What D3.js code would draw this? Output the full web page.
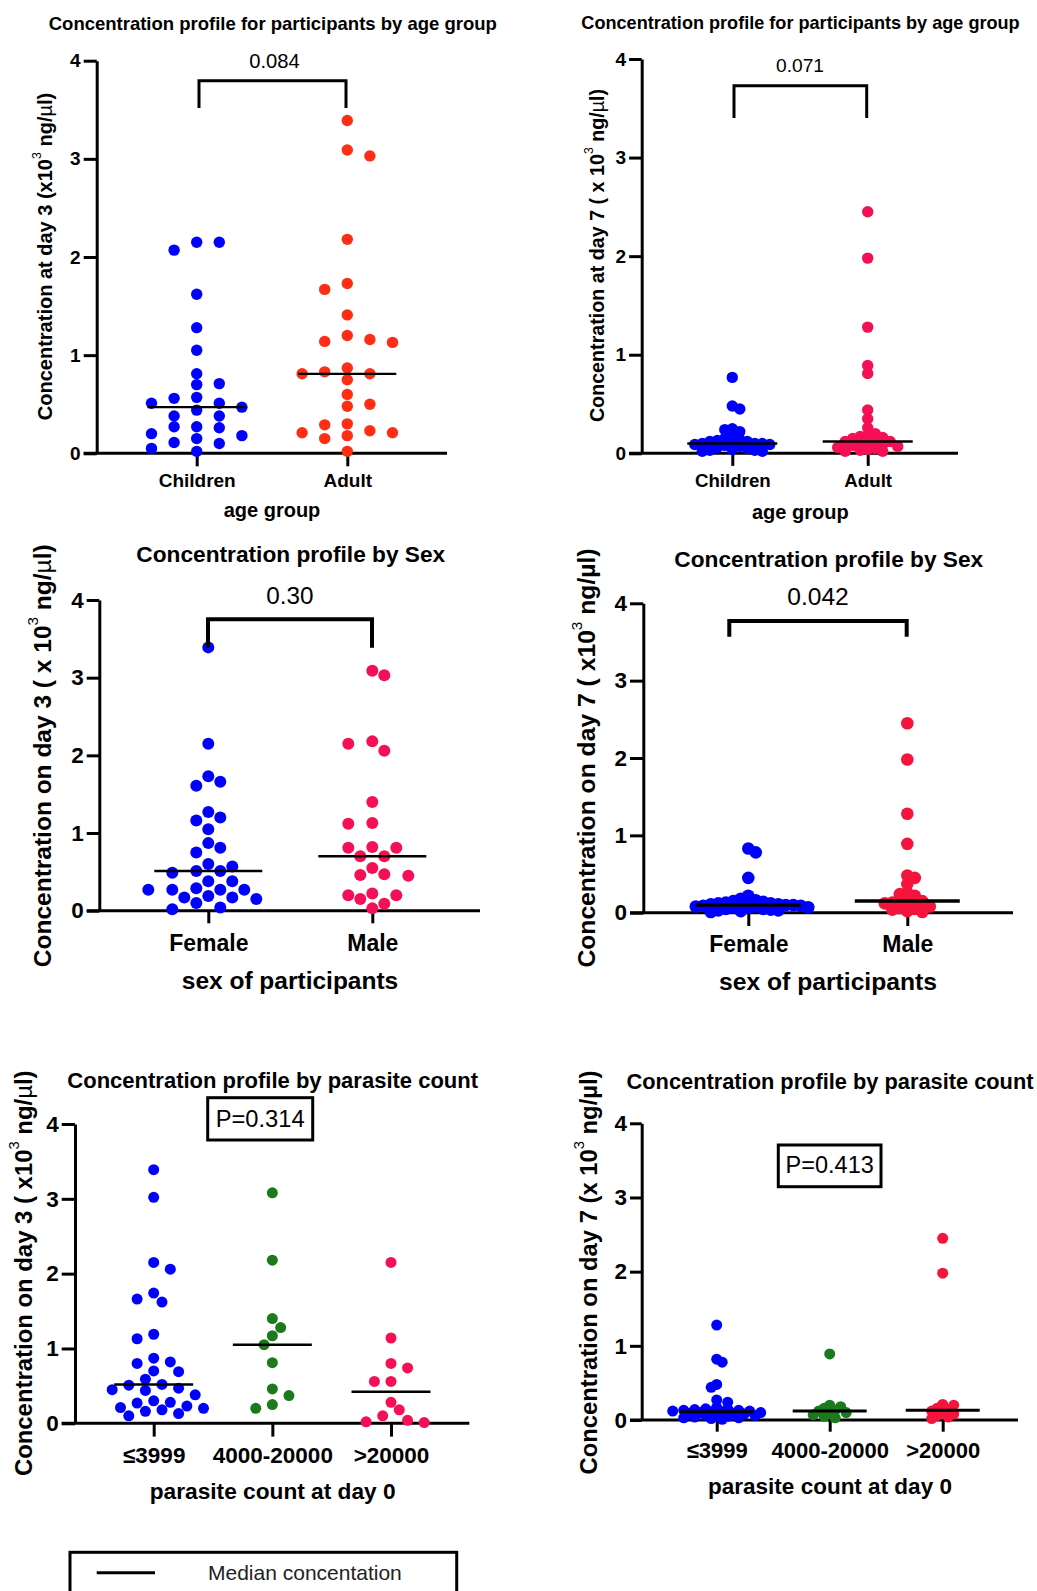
<!DOCTYPE html>
<html>
<head>
<meta charset="utf-8">
<script src="https://cdn.jsdelivr.net/npm/d3@7"></script>
<style>
  body { margin: 0; background: #fff; }
  svg { display: block; font-family: 'Liberation Sans', Arial, sans-serif; }
</style>
</head>
<body>
<div class="canvas"></div>
<script>
// categories
const ageGroups = ['Children', 'Adult']
const sexGroups = ['Female', 'Male']
const parasiteGroups = ['≤3999', '4000-20000', '>20000']
const yTicks = [0, 1, 2, 3, 4]

// concentration (x10^3 ng/ul)
const day3Children = [2.15, 2.07, 2.15, 1.62, 1.28, 1.05, 0.81, 0.71, 0.70, 0.56, 0.57, 0.51, 0.51, 0.47, 0.44, 0.38, 0.38, 0.26, 0.27, 0.27, 0.20, 0.18, 0.15, 0.10, 0.11, 0.05, 0.02]
const day3Adult = [3.39, 3.09, 3.03, 2.18, 1.73, 1.67, 1.41, 1.20, 1.16, 1.14, 1.13, 0.87, 0.81, 0.81, 0.83, 0.75, 0.60, 0.50, 0.48, 0.30, 0.29, 0.23, 0.21, 0.21, 0.18, 0.15, 0.02]
const day7Children = [0.77, 0.48, 0.45, 0.25, 0.24, 0.22, 0.18, 0.15, 0.14, 0.13, 0.12, 0.12, 0.11, 0.10, 0.10, 0.10, 0.09, 0.09, 0.08, 0.07, 0.06, 0.05, 0.04, 0.03, 0.03, 0.02, 0.02]
const day7Adult = [2.45, 1.98, 1.28, 0.89, 0.81, 0.44, 0.35, 0.26, 0.20, 0.18, 0.17, 0.16, 0.15, 0.12, 0.12, 0.12, 0.11, 0.10, 0.09, 0.08, 0.07, 0.06, 0.05, 0.04, 0.03, 0.02, 0.02]

const day3Female = [3.39, 2.15, 1.73, 1.66, 1.61, 1.27, 1.20, 1.16, 1.05, 0.87, 0.81, 0.75, 0.60, 0.57, 0.51, 0.51, 0.49, 0.38, 0.38, 0.29, 0.27, 0.27, 0.27, 0.27, 0.19, 0.17, 0.17, 0.15, 0.10, 0.04, 0.02]
const day3Male = [3.09, 3.03, 2.18, 2.15, 2.06, 1.40, 1.13, 1.12, 0.82, 0.81, 0.81, 0.70, 0.70, 0.55, 0.47, 0.46, 0.45, 0.22, 0.20, 0.20, 0.15, 0.09, 0.03]
const day7Female = [0.83, 0.78, 0.45, 0.22, 0.18, 0.16, 0.15, 0.14, 0.14, 0.13, 0.12, 0.12, 0.11, 0.11, 0.10, 0.10, 0.10, 0.09, 0.09, 0.08, 0.08, 0.07, 0.07, 0.06, 0.05, 0.05, 0.04, 0.03, 0.03, 0.02, 0.01]
const day7Male = [2.45, 1.98, 1.28, 0.89, 0.48, 0.45, 0.37, 0.26, 0.24, 0.22, 0.18, 0.15, 0.15, 0.14, 0.13, 0.12, 0.10, 0.08, 0.06, 0.05, 0.04, 0.02, 0.01]

const day3Low = [3.39, 3.02, 2.15, 2.06, 1.74, 1.66, 1.62, 1.19, 1.13, 0.87, 0.82, 0.80, 0.70, 0.69, 0.59, 0.52, 0.51, 0.47, 0.45, 0.44, 0.38, 0.30, 0.28, 0.27, 0.23, 0.21, 0.20, 0.18, 0.16, 0.13, 0.10]
const day3Mid = [3.08, 2.18, 1.40, 1.28, 1.17, 1.05, 0.81, 0.46, 0.37, 0.25, 0.20]
const day3High = [2.15, 1.14, 0.80, 0.74, 0.56, 0.56, 0.28, 0.18, 0.10, 0.04, 0.02, 0.01]
const day7Low = [1.28, 0.82, 0.78, 0.48, 0.44, 0.27, 0.24, 0.17, 0.15, 0.15, 0.14, 0.13, 0.13, 0.12, 0.12, 0.11, 0.11, 0.10, 0.10, 0.09, 0.09, 0.08, 0.07, 0.06, 0.06, 0.05, 0.04, 0.03, 0.03, 0.02, 0.01]
const day7Mid = [0.89, 0.20, 0.18, 0.16, 0.13, 0.12, 0.10, 0.09, 0.07, 0.05, 0.03]
const day7High = [2.45, 1.98, 0.21, 0.20, 0.16, 0.14, 0.12, 0.10, 0.08, 0.06, 0.04, 0.02]

const blue = '#0000ff'
const orangeRed = '#ff2d14'
const pink = '#f50f55'
const red = '#f5143c'
const green = '#1c7a1c'
const font = "'Liberation Sans', Arial, sans-serif"

const svg = d3.select('.canvas')
  .append('svg')
  .attr('width', 1037)
  .attr('height', 1591)

// greedy beeswarm on a column grid, top dots first
const swarm = (vals, y, step, dmin) => {
  const pts = vals.map(v => ({ v, py: y(v) })).sort((a, b) => a.py - b.py)
  const placed = []
  pts.forEach(p => {
    const free = c => placed.every(q => Math.hypot((q.c - c) * step, q.py - p.py) >= dmin)
    for (let m = 0; m < 100; m++) {
      let cands = [m]
      if (m > 0) {
        const right = placed.filter(q => q.c > 0).length
        const left = placed.filter(q => q.c < 0).length
        cands = right > left ? [-m, m] : [m, -m]
      }
      const c = cands.find(free)
      if (c !== undefined) { p.c = c; placed.push(p); break }
    }
  })
  return pts
}

const panel = cfg => {
  const g = svg.append('g')
  const y = d3.scaleLinear().domain([0, 4]).range([cfg.yBot, cfg.yTop])
  const x = d3.scalePoint().domain(cfg.groups).range(cfg.cats)

  // axes
  const yAxis = g.append('g')
    .attr('transform', `translate(${cfg.x0}, 0)`)
    .call(d3.axisLeft(y).tickValues(yTicks).tickFormat(d3.format('d')).tickSize(cfg.tickLen).tickSizeOuter(0).tickPadding(3))
  yAxis.selectAll('line, path').attr('stroke', '#000').attr('stroke-width', 3)
  yAxis.selectAll('text')
    .style('font-family', font)
    .style('font-size', `${cfg.tickFont}px`)
    .style('font-weight', 'bold')
    .attr('fill', '#000')

  g.append('line')
    .attr('x1', cfg.x0 - cfg.tickLen).attr('x2', cfg.xEnd)
    .attr('y1', cfg.yBot).attr('y2', cfg.yBot)
    .attr('stroke', '#000').attr('stroke-width', 3)

  const xAxis = g.append('g')
    .attr('transform', `translate(0, ${cfg.yBot})`)
    .call(d3.axisBottom(x).tickSize(cfg.tickLen).tickSizeOuter(0))
  xAxis.select('.domain').remove()
  xAxis.selectAll('line').attr('stroke', '#000').attr('stroke-width', 3)
  xAxis.selectAll('text')
    .attr('y', cfg.catY - cfg.yBot)
    .attr('dy', '0.35em')
    .style('font-family', font)
    .style('font-size', `${cfg.catFont}px`)
    .style('font-weight', 'bold')
    .attr('fill', '#000')

  // dots
  cfg.series.forEach((vals, i) => {
    const cx = x(cfg.groups[i])
    g.append('g').selectAll('circle')
      .data(swarm(vals, y, cfg.step, cfg.dmin))
      .enter().append('circle')
        .attr('cx', d => cx + d.c * cfg.step)
        .attr('cy', d => d.py)
        .attr('r', cfg.r)
        .attr('fill', cfg.colors[i])

    const med = d3.median(vals)
    g.append('line')
      .attr('x1', cx - cfg.medHalf).attr('x2', cx + cfg.medHalf)
      .attr('y1', y(med)).attr('y2', y(med))
      .attr('stroke', '#000').attr('stroke-width', cfg.medW)
  })

  // titles
  g.append('text')
    .attr('x', cfg.title.x).attr('y', cfg.title.y)
    .attr('text-anchor', 'middle').attr('dominant-baseline', 'central')
    .attr('font-size', cfg.title.size).attr('font-weight', 'bold')
    .text(cfg.title.text)

  g.append('text')
    .attr('x', cfg.xTitle.x).attr('y', cfg.xTitle.y)
    .attr('text-anchor', 'middle').attr('dominant-baseline', 'central')
    .attr('font-size', cfg.xTitle.size).attr('font-weight', 'bold')
    .text(cfg.xTitle.text)

  const yl = cfg.yLabel
  const lab = g.append('text')
    .attr('transform', `translate(${yl.x}, ${yl.y}) rotate(-90)`)
    .attr('text-anchor', 'middle').attr('dominant-baseline', 'central')
    .attr('font-size', yl.size).attr('font-weight', 'bold')
  lab.append('tspan').text(yl.pre)
  lab.append('tspan').attr('dy', -yl.size * 0.4).attr('font-size', yl.size * 0.62).attr('font-weight', 'normal').text('3')
  lab.append('tspan').attr('dy', yl.size * 0.4).text(' ng/')
  lab.append('tspan').attr('font-weight', yl.thinMu ? 'normal' : 'bold').text('µ')
  lab.append('tspan').text('l)')

  // significance
  if (cfg.bracket) {
    const b = cfg.bracket
    g.append('path')
      .attr('d', d3.line()([[b.x1, b.yBot], [b.x1, b.yTop], [b.x2, b.yTop], [b.x2, b.yBot]]))
      .attr('fill', 'none').attr('stroke', '#000').attr('stroke-width', b.w)
  }
  if (cfg.pBox) {
    const p = cfg.pBox
    g.append('rect')
      .attr('x', p.x1).attr('y', p.y1)
      .attr('width', p.x2 - p.x1).attr('height', p.y2 - p.y1)
      .attr('fill', 'none').attr('stroke', '#000').attr('stroke-width', 3)
  }
  g.append('text')
    .attr('x', cfg.pText.x).attr('y', cfg.pText.y)
    .attr('text-anchor', 'middle').attr('dominant-baseline', 'central')
    .attr('font-size', cfg.pText.size)
    .text(cfg.pText.text)
}

panel({
  groups: ageGroups, series: [day3Children, day3Adult], colors: [blue, orangeRed],
  x0: 96.7, xEnd: 447, yTop: 60.7, yBot: 453.3, cats: [196.7, 347.3],
  r: 5.7, step: 22.6, dmin: 10.5, medHalf: 49, medW: 2.2,
  tickFont: 19, tickLen: 13, catFont: 19, catY: 480,
  title: { text: 'Concentration profile for participants by age group', x: 272.8, y: 23, size: 18.5 },
  xTitle: { text: 'age group', x: 272, y: 510, size: 20 },
  yLabel: { pre: 'Concentration at day 3 (x10', x: 45, y: 256.5, size: 20, thinMu: true },
  bracket: { x1: 199, x2: 346, yTop: 80.7, yBot: 108, w: 3 },
  pText: { text: '0.084', x: 274.5, y: 61, size: 20.2 }
})

panel({
  groups: ageGroups, series: [day7Children, day7Adult], colors: [blue, pink],
  x0: 641.7, xEnd: 958, yTop: 59, yBot: 453.3, cats: [732.3, 867.7],
  r: 5.7, step: 7.5, dmin: 6.5, medHalf: 45, medW: 2.5,
  tickFont: 19, tickLen: 12.6, catFont: 18.7, catY: 480,
  title: { text: 'Concentration profile for participants by age group', x: 800.5, y: 23, size: 18.1 },
  xTitle: { text: 'age group', x: 800.3, y: 512, size: 20 },
  yLabel: { pre: 'Concentration at day 7 ( x 10', x: 597, y: 255.5, size: 19.7, thinMu: true },
  bracket: { x1: 734, x2: 866.7, yTop: 85.7, yBot: 118, w: 3 },
  pText: { text: '0.071', x: 800, y: 65, size: 19.2 }
})

panel({
  groups: sexGroups, series: [day3Female, day3Male], colors: [blue, pink],
  x0: 99.3, xEnd: 480, yTop: 600, yBot: 910.7, cats: [208.3, 372.3],
  r: 6, step: 12, dmin: 12.5, medHalf: 54, medW: 2.5,
  tickFont: 22.5, tickLen: 12.6, catFont: 23, catY: 943,
  title: { text: 'Concentration profile by Sex', x: 290.8, y: 554.3, size: 22.7 },
  xTitle: { text: 'sex of participants', x: 290, y: 980, size: 24.5 },
  yLabel: { pre: 'Concentration on day 3 ( x 10', x: 41.7, y: 755.8, size: 24.5, thinMu: true },
  bracket: { x1: 208, x2: 372, yTop: 619.3, yBot: 647.7, w: 4 },
  pText: { text: '0.30', x: 290, y: 595, size: 24.3 }
})

panel({
  groups: sexGroups, series: [day7Female, day7Male], colors: [blue, red],
  x0: 643.3, xEnd: 1013, yTop: 603.3, yBot: 912.7, cats: [748.3, 907.3],
  r: 6.3, step: 7.5, dmin: 6, medHalf: 52.5, medW: 3.5,
  tickFont: 22.5, tickLen: 13.3, catFont: 23, catY: 944,
  title: { text: 'Concentration profile by Sex', x: 828.8, y: 559, size: 22.7 },
  xTitle: { text: 'sex of participants', x: 828, y: 981.7, size: 24.7 },
  yLabel: { pre: 'Concentration on day 7 ( x10', x: 585.7, y: 758, size: 24.7, thinMu: false },
  bracket: { x1: 729.3, x2: 906.7, yTop: 621, yBot: 636.7, w: 4 },
  pText: { text: '0.042', x: 818, y: 596.7, size: 24.6 }
})

panel({
  groups: parasiteGroups, series: [day3Low, day3Mid, day3High], colors: [blue, green, pink],
  x0: 75, xEnd: 469.3, yTop: 1124, yBot: 1423.3, cats: [153.7, 391],
  r: 5.5, step: 8.3, dmin: 11, medHalf: 39.5, medW: 2.5,
  tickFont: 22.5, tickLen: 13.3, catFont: 22.5, catY: 1455,
  title: { text: 'Concentration profile by parasite count', x: 272.7, y: 1080, size: 22 },
  xTitle: { text: 'parasite count at day 0', x: 272.7, y: 1491, size: 22.7 },
  yLabel: { pre: 'Concentration on day 3 ( x10', x: 23.3, y: 1273.3, size: 23.9, thinMu: true },
  pBox: { x1: 207.7, x2: 312.7, y1: 1097.7, y2: 1140 },
  pText: { text: 'P=0.314', x: 260.2, y: 1119, size: 23.7 }
})

panel({
  groups: parasiteGroups, series: [day7Low, day7Mid, day7High], colors: [blue, green, red],
  x0: 641.7, xEnd: 1018, yTop: 1123.3, yBot: 1420, cats: [716.7, 942.7],
  r: 5.5, step: 5.5, dmin: 6, medHalf: 37, medW: 3,
  tickFont: 22.5, tickLen: 11.7, catFont: 22, catY: 1450.7,
  title: { text: 'Concentration profile by parasite count', x: 830, y: 1081.7, size: 21.8 },
  xTitle: { text: 'parasite count at day 0', x: 830, y: 1486.7, size: 22.5 },
  yLabel: { pre: 'Concentration on day 7 (x 10', x: 588.3, y: 1272.5, size: 23.8, thinMu: false },
  pBox: { x1: 778.3, x2: 881, y1: 1145, y2: 1186.7 },
  pText: { text: 'P=0.413', x: 829.7, y: 1165, size: 23.5 }
})

// legend
const legend = svg.append('g')
legend.append('rect')
  .attr('x', 70).attr('y', 1552.3)
  .attr('width', 386.7).attr('height', 60)
  .attr('fill', 'none').attr('stroke', '#000').attr('stroke-width', 3)
legend.append('line')
  .attr('x1', 96.7).attr('x2', 155)
  .attr('y1', 1572.7).attr('y2', 1572.7)
  .attr('stroke', '#000').attr('stroke-width', 3)
legend.append('text')
  .attr('x', 208).attr('y', 1572)
  .attr('dominant-baseline', 'central')
  .attr('font-size', 21).attr('fill', '#222')
  .text('Median concentation')
</script>
</body>
</html>
